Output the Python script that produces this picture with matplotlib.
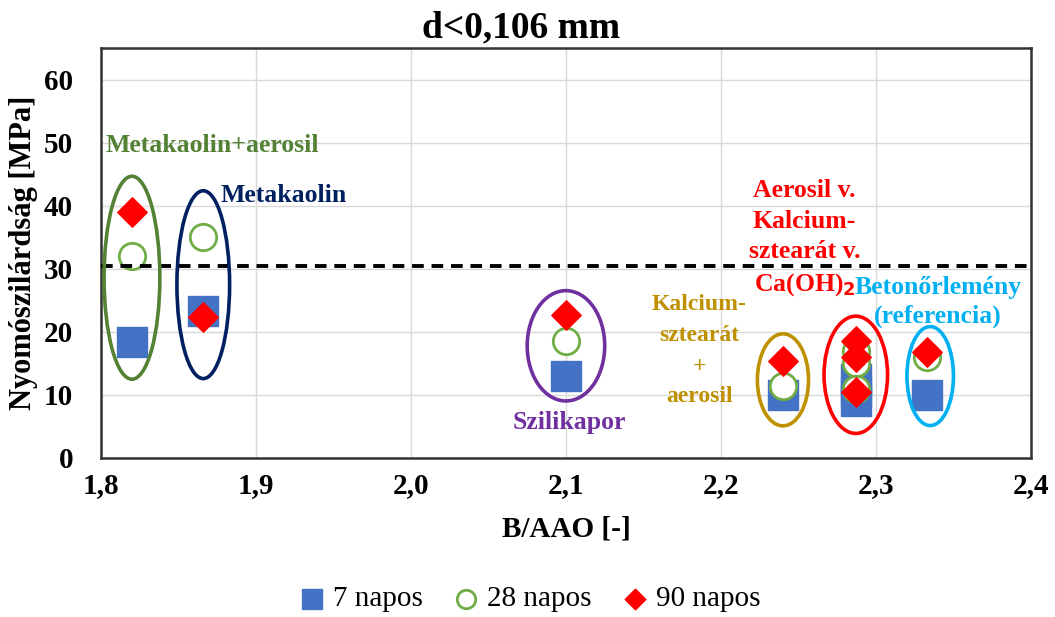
import matplotlib.pyplot as plt
from matplotlib.patches import Ellipse

plt.rcParams['font.family'] = ['Liberation Serif', 'DejaVu Serif']

# Adatok (B/AAO és nyomószilárdság)
x_pont = [1.82, 1.866, 2.10, 2.24, 2.287, 2.287, 2.287, 2.333]
napos7 = [18.4, 23.3, 13.0, 10.0, 12.5, 10.5, 9.0, 10.0]
napos28 = [32.0, 35.0, 18.5, 11.4, 17.0, 15.0, 11.0, 16.0]
napos90 = [39.0, 22.3, 22.7, 15.4, 18.6, 16.0, 10.5, 16.8]
hatar = 30.5

csoportok = ['Metakaolin+aerosil', 'Metakaolin', 'Szilikapor',
             'Kalcium-\nsztearát\n+\naerosil',
             'Aerosil v.\nKalcium-\nsztearát v.\nCa(OH)$_\\mathbf{2}$',
             'Betonőrlemény\n(referencia)']
szinek = ['#548235', '#002060', '#7030a0', '#bf9000', '#ff0000', '#00b0f0']
# ellipszisek: közép x, közép y, szélesség, magasság
ell_x = [1.82, 1.866, 2.10, 2.24, 2.287, 2.335]
ell_y = [28.6, 27.5, 17.8, 12.4, 13.2, 13.0]
ell_w = [0.036, 0.034, 0.050, 0.033, 0.041, 0.030]
ell_h = [32.2, 29.8, 17.5, 14.6, 18.6, 15.7]
# felirat helyek
txt_x = [1.803, 1.877, 2.102, 2.186, 2.254, 2.34]
txt_y = [49.6, 41.6, 5.6, 17.0, 34.8, 24.8]
txt_ha = ['left', 'left', 'center', 'center', 'center', 'center']
txt_meret = [18.5, 18.5, 18.5, 17, 18.5, 18.5]
txt_sor = [1.25, 1.25, 1.25, 1.6, 1.42, 1.3]

fig = plt.figure(figsize=(10.55, 6.17), dpi=100)
ax = fig.add_axes([0.0957, 0.2577, 0.8815, 0.664])

ax.scatter(x_pont, napos7, marker='s', s=21**2, color='#4472c4', label='7 napos', zorder=3)
ax.scatter(x_pont, napos28, marker='o', s=19**2, facecolor='white', edgecolor='#70ad47',
           linewidth=2, label='28 napos', zorder=4)
ax.scatter(x_pont, napos90, marker='D', s=15**2, color='#ff0000', label='90 napos', zorder=5)
ax.axhline(hatar, color='black', linestyle=(0, (3, 2)), linewidth=2.8, zorder=6)

for i in range(len(csoportok)):
    e = Ellipse((ell_x[i], ell_y[i]), ell_w[i], ell_h[i], fill=False,
                edgecolor=szinek[i], linewidth=2.6, zorder=7)
    ax.add_patch(e)
    ax.text(txt_x[i], txt_y[i], csoportok[i], color=szinek[i], fontsize=txt_meret[i],
            fontweight='bold', ha=txt_ha[i], va='center', linespacing=txt_sor[i], zorder=8)

ax.set_xlim(1.8, 2.4)
ax.set_ylim(0, 65)
ax.set_xticks([1.8, 1.9, 2.0, 2.1, 2.2, 2.3, 2.4])
ax.set_xticklabels(['1,8', '1,9', '2,0', '2,1', '2,2', '2,3', '2,4'])
ax.set_yticks(range(0, 61, 10))
ax.grid(True, color='#d9d9d9', linewidth=1)
ax.set_axisbelow(True)
ax.tick_params(length=0, labelsize=21)
ax.tick_params(axis='x', pad=10)
ax.tick_params(axis='y', pad=20)
for lab in ax.get_xticklabels() + ax.get_yticklabels():
    lab.set_fontweight('bold')
for s in ax.spines.values():
    s.set_linewidth(1.8)
    s.set_color('#333333')

ax.set_xlabel('B/AAO [-]', fontsize=21, fontweight='bold', labelpad=12)
ax.set_ylabel('Nyomószilárdság [MPa]', fontsize=22, fontweight='bold', labelpad=4)
ax.set_title('d<0,106 mm', fontsize=27, fontweight='bold', pad=8, x=0.452)

fig.legend(loc='lower center', bbox_to_anchor=(0.5, -0.035), ncol=3, frameon=False,
           fontsize=21, markerscale=0.7, handletextpad=0.1, handlelength=1.2,
           columnspacing=0.9)

fig.savefig('out.png')
